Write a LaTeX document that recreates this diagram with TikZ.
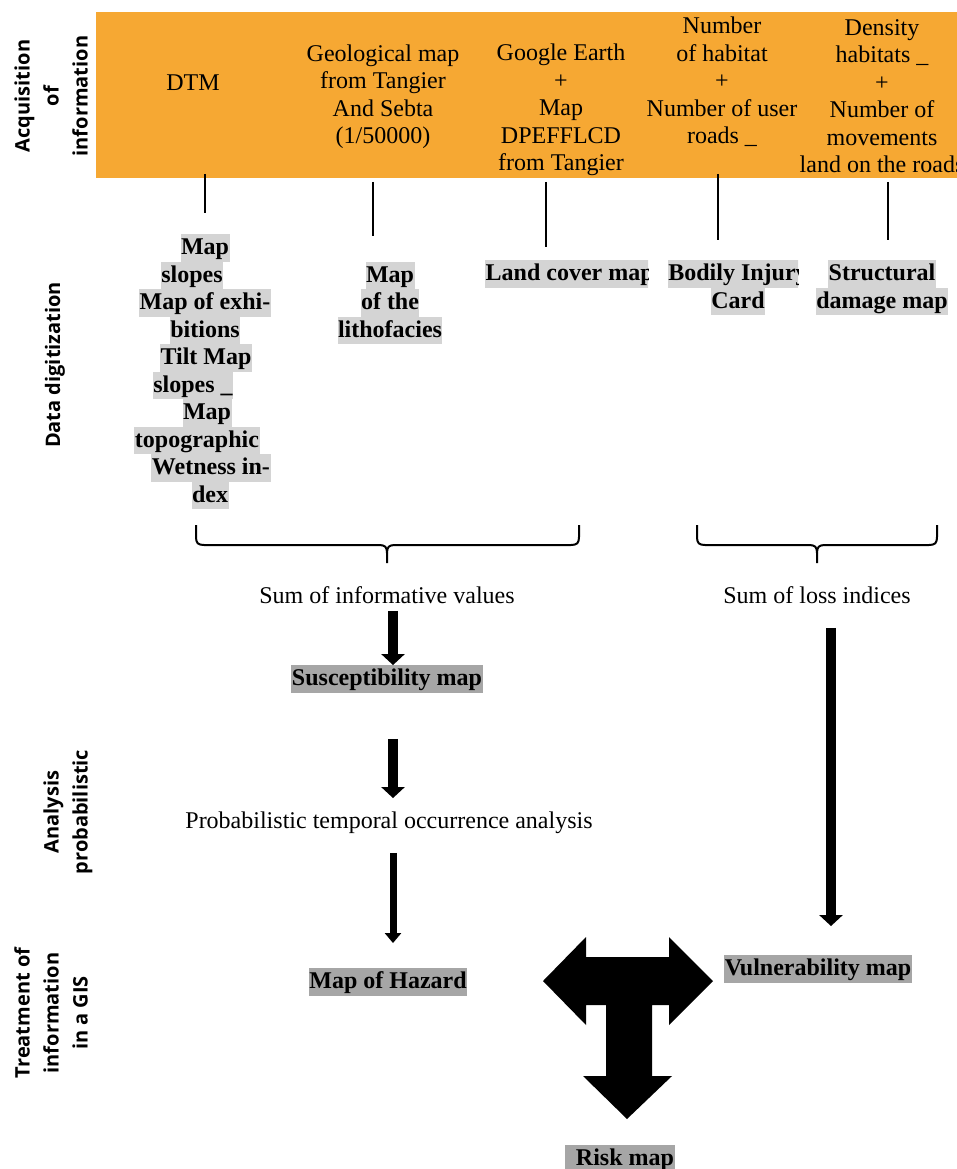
\documentclass[tikz,border=0pt]{standalone}
\usepackage{fontspec}
\setmainfont{Liberation Serif}
\newfontfamily\sidefont{Open Sans}
\usepackage{xcolor}
\usetikzlibrary{positioning,arrows.meta}
\definecolor{acqorange}{HTML}{F6A833}
\definecolor{hllight}{HTML}{D4D4D4}
\definecolor{hlgrey}{HTML}{A6A6A6}

\begin{document}
\begin{tikzpicture}[
    x=1pt, y=-1pt,
    every node/.style = {font=\fontsize{24pt}{27.5pt}\selectfont, inner sep=0pt},
    src/.style        = {align=center},
    lbl/.style        = {text height=20.5pt, text depth=7pt},
    hlbox/.style      = {lbl, fill=hllight, inner xsep=0.5pt,
                          font=\fontsize{24pt}{27.5pt}\selectfont\bfseries},
    hlboxd/.style     = {hlbox, fill=hlgrey},
    side/.style       = {rotate=90, align=center,
                          font=\sidefont\bfseries\fontsize{20pt}{29pt}\selectfont},
    tick/.style       = {line width=2.2pt},
    brc/.style        = {line width=2pt},
    fat/.style        = {line width=10pt, -{Triangle[width=23pt,length=11pt]}},
    slim/.style       = {line width=7pt, -{Triangle[width=16pt,length=10pt]}},
]
\useasboundingbox (0,0) rectangle (957,1169);

% Row labels on the left
\node[side] (acq) at (51,96)   {Acquisition\\of\\information};
\node[side] (dig) at (55,365)  {Data digitization};
\node[side] (ana) at (68,812)  {Analysis\\probabilistic};
\node[side] (trt) at (51,1013) {Treatment of\\information\\in a GIS};

% Acquisition band
\node[fill=acqorange, minimum width=861pt, minimum height=166pt, anchor=north west]
    (band) at (96,12) {};
\node[src] (dtm)     at (193,83)   {DTM};
\node[src] (geol)    at (383,96.5) {Geological map\\from Tangier\\And Sebta\\(1/50000)};
\node[src] (google)  at (561,110)  {Google Earth\\+\\Map\\DPEFFLCD\\from Tangier};
\node[src] (habitat) at (722,82)   {Number\\of habitat\\+\\Number of user\\roads \_};
\node[src] (density) at (882,96)   {Density\\habitats \_\\+\\Number of\\movements\\land on the roads};

% Short drop lines under the band
\foreach \x/\ya/\yb [count=\i] in {205/174/213, 373/182/236, 546/182/247, 718/174/240, 888/182/240} {
    \coordinate (lt\i) at (\x,\ya);
    \coordinate (lb\i) at (\x,\yb);
    \draw[tick] (lt\i) -- (lb\i);
}

% Digitized layers (highlighted line by line)
\foreach \x/\y/\t [count=\i] in {205/248/Map, 192/275.5/slopes, 205/303/Map of exhi-,
        205/330.5/bitions, 206/358/Tilt Map, 193/385.5/slopes \_, 207/413/Map,
        197/440.5/topographic, 211/468/Wetness in-, 210/495.5/dex} {
    \node[hlbox] (dtm\i) at (\x,\y) {\t};
}
\foreach \y/\t [count=\i] in {275.5/Map, 303/of the, 330.5/lithofacies} {
    \node[hlbox] (litho\i) at (390,\y) {\t};
}
\begin{scope}
    \clip (480,250) rectangle (648,300);
    \node[hlbox, anchor=west] (land) at (485,274) {Land cover map};
\end{scope}
\begin{scope}
    \clip (600,250) rectangle (798,288);
    \node[hlbox] (injury) at (738,274) {Bodily Injury};
\end{scope}
\node[hlbox] (card)    at (738,301.5) {Card};
\node[hlbox] (struct1) at (882,274)   {Structural};
\node[hlbox] (struct2) at (882,301.5) {damage map};

% Braces grouping the layers
\foreach \xa/\xm/\xb in {196/387/579, 697/817/937} {
    \draw[brc] (\xa,525) -- (\xa,537) .. controls (\xa,543) and (\xa+2,545) .. (\xa+8,545)
        -- (\xm-8,545) .. controls (\xm-2,545) and (\xm,547) .. (\xm,553) -- (\xm,563);
    \draw[brc] (\xm,553) .. controls (\xm,547) and (\xm+2,545) .. (\xm+8,545)
        -- (\xb-8,545) .. controls (\xb-2,545) and (\xb,543) .. (\xb,537) -- (\xb,525);
}

% Analysis chain
\node[lbl]    (suminf)  at (387,597)  {Sum of informative values};
\node[lbl]    (sumloss) at (817,597)  {Sum of loss indices};
\node[hlboxd] (susc)    at (387,679)  {Susceptibility map};
\node[lbl]    (prob)    at (389,822)  {Probabilistic temporal occurrence analysis};
\node[hlboxd] (hazard)  at (388,982)  {Map of Hazard};
\node[hlboxd] (vuln)    at (818,969)  {Vulnerability map};
\node[hlboxd] (risk)    at (620,1159) {\hspace*{10pt}Risk map};

\coordinate (laxis) at (393,0);
\coordinate (raxis) at (831,0);
\draw[fat] (suminf.south -| laxis) -- (susc.north -| laxis);
\draw[fat, shorten <=46pt, shorten >=10pt] (susc.south -| laxis) -- (prob.north -| laxis);
\draw[slim, shorten <=17pt, shorten >=25pt] (prob.south -| laxis) -- (hazard.north -| laxis);
\draw[fat, shorten <=17pt, shorten >=29pt] (sumloss.south -| raxis) -- (vuln.north -| raxis);

% Combining arrow: hazard + vulnerability -> risk
\fill (543,981) -- (586,937) -- (586,957) -- (669,957) -- (669,937) -- (713,981)
    -- (669,1025) -- (669,1005) -- (652,1005) -- (652,1076) -- (672,1076)
    -- (627,1119) -- (583,1076) -- (606,1076) -- (606,1005) -- (586,1005)
    -- (586,1025) -- cycle;

\end{tikzpicture}
\end{document}
